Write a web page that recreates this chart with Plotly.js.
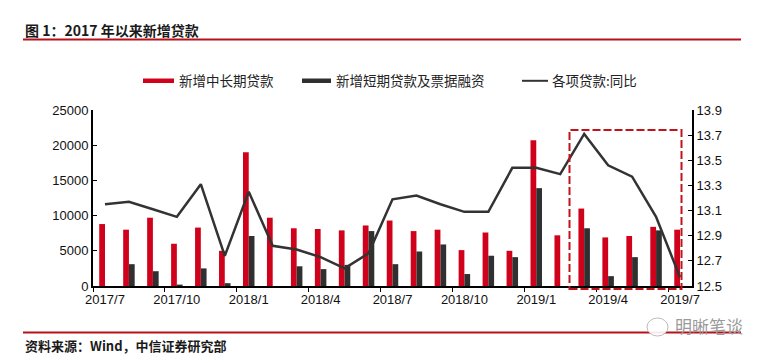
<!DOCTYPE html>
<html>
<head>
<meta charset="utf-8">
<script src="https://cdn.plot.ly/plotly-3.0.1.min.js"></script>
<style>
html,body{margin:0;padding:0;background:#fff;}
#chart{width:774px;height:363px;}
</style>
</head>
<body>
<div id="chart"></div>
<script>
// ---- data ----
var months = ["2017/7","2017/8","2017/9","2017/10","2017/11","2017/12","2018/1","2018/2","2018/3","2018/4","2018/5","2018/6","2018/7","2018/8","2018/9","2018/10","2018/11","2018/12","2019/1","2019/2","2019/3","2019/4","2019/5","2019/6","2019/7"];
var longTermLoans = [8800,8000,9700,6000,8300,5000,19000,9700,8200,8100,7900,8600,9300,7800,8000,5100,7600,5000,20700,7200,11000,6900,7100,8400,8000];
var shortTermBill = [null,3100,2100,200,2500,400,7100,null,2800,2400,3000,7800,3100,4900,5900,1700,4300,4100,13900,null,8200,1400,4100,7900,null];
var loanYoY = [13.15,13.17,13.11,13.05,13.31,12.74,13.25,12.82,12.79,12.73,12.64,12.76,13.19,13.22,13.15,13.09,13.09,13.44,13.44,13.39,13.71,13.46,13.37,13.05,12.57];

var seriesNames = ["新增中长期贷款","新增短期贷款及票据融资","各项贷款:同比"];
var titleText = "图 1：2017 年以来新增贷款";
var sourceText = "资料来源：Wind，中信证券研究部";
var watermarkText = "明晰笔谈";

// ---- layout helpers (pixel -> paper) ----
var W = 774, H = 363;
var mL = 93, mR = 82, mT = 110, mB = 77;
var pw = W - mL - mR, ph = H - mT - mB;
function px(x){ return (x - mL) / pw; }
function py(y){ return (H - mB - y) / ph; }

var RED = "#d0021b", DARK = "#303030", LINE = "#333333", FRAME = "#b5121b";
var CJK = "Noto Sans CJK SC, Liberation Sans, sans-serif";
var LAT = "Liberation Sans, Arial, sans-serif";

var traces = [
  {type:"bar", x:months, y:longTermLoans, name:seriesNames[0], marker:{color:RED}, yaxis:"y", hoverinfo:"x+y"},
  {type:"bar", x:months, y:shortTermBill, name:seriesNames[1], marker:{color:DARK}, yaxis:"y", hoverinfo:"x+y"},
  {type:"scatter", mode:"lines", x:months, y:loanYoY, name:seriesNames[2], line:{color:LINE, width:2.5}, yaxis:"y2"}
];

var shapes = [
  // title underline
  {type:"line", xref:"paper", yref:"paper", x0:px(23), x1:px(741), y0:py(39.5), y1:py(39.5), line:{color:FRAME, width:2}},
  // bottom line
  {type:"line", xref:"paper", yref:"paper", x0:px(23), x1:px(741), y0:py(332.5), y1:py(332.5), line:{color:FRAME, width:2}},
  // highlight box
  {type:"rect", xref:"paper", yref:"paper", x0:px(569.5), x1:px(681.5), y0:py(289), y1:py(130), line:{color:"#c0141c", width:2, dash:"8px,3px"}, fillcolor:"rgba(0,0,0,0)"},
  // legend swatches
  {type:"rect", xref:"paper", yref:"paper", x0:px(143), x1:px(174), y0:py(83), y1:py(78.5), line:{width:0}, fillcolor:RED},
  {type:"rect", xref:"paper", yref:"paper", x0:px(302), x1:px(331), y0:py(83), y1:py(78.5), line:{width:0}, fillcolor:DARK},
  {type:"line", xref:"paper", yref:"paper", x0:px(522), x1:px(548), y0:py(80.8), y1:py(80.8), line:{color:LINE, width:2}},
  // watermark bubble
  {type:"circle", xref:"paper", yref:"paper", x0:px(647), x1:px(668), y0:py(336), y1:py(318), line:{color:"#bbbbbb", width:1}, fillcolor:"rgba(255,255,255,0.9)"}
];

var annotations = [
  {text:titleText, xref:"paper", yref:"paper", x:px(23), y:py(30), xanchor:"left", yanchor:"middle", showarrow:false, font:{family:CJK, size:14, color:"#1a1a1a", weight:"bold"}},
  {text:sourceText, xref:"paper", yref:"paper", x:px(23), y:py(345), xanchor:"left", yanchor:"middle", showarrow:false, font:{family:CJK, size:13, color:"#1a1a1a", weight:"bold"}},
  {text:seriesNames[0], xref:"paper", yref:"paper", x:px(177), y:py(80.5), xanchor:"left", yanchor:"middle", showarrow:false, font:{family:CJK, size:13.5, color:"#222"}},
  {text:seriesNames[1], xref:"paper", yref:"paper", x:px(334), y:py(80.5), xanchor:"left", yanchor:"middle", showarrow:false, font:{family:CJK, size:13.5, color:"#222"}},
  {text:seriesNames[2], xref:"paper", yref:"paper", x:px(550), y:py(80.5), xanchor:"left", yanchor:"middle", showarrow:false, font:{family:CJK, size:13.5, color:"#222"}},
  {text:watermarkText, xref:"paper", yref:"paper", x:px(673), y:py(325), xanchor:"left", yanchor:"middle", showarrow:false, font:{family:CJK, size:17, color:"#9a9a9a"}}
];

var layout = {
  width: W, height: H,
  margin: {l:mL, r:mR, t:mT, b:mB, pad:0},
  paper_bgcolor:"#ffffff", plot_bgcolor:"#ffffff",
  showlegend:false,
  barmode:"group", bargap:0.52, bargroupgap:0,
  font:{family:LAT, size:13, color:"#111"},
  xaxis:{
    type:"category", range:[-0.5, 24.5],
    tickmode:"linear", tick0:0, dtick:3,
    tickson:"boundaries", tickangle:0,
    ticks:"outside", ticklen:4, tickwidth:1, tickcolor:"#000",
    showline:true, linecolor:"#000", linewidth:2,
    showgrid:false, zeroline:false,
    tickfont:{family:LAT, size:13, color:"#111"}
  },
  yaxis:{
    range:[0,25000], dtick:5000, tickformat:"d",
    ticks:"inside", ticklen:4, tickcolor:"#000",
    showline:true, linecolor:"#000", linewidth:2,
    showgrid:false, zeroline:false,
    tickfont:{family:LAT, size:13, color:"#111"}
  },
  yaxis2:{
    overlaying:"y", side:"right",
    range:[12.5,13.9], dtick:0.2, tick0:12.5, tickformat:".1f",
    ticks:"inside", ticklen:4, tickcolor:"#000",
    showline:true, linecolor:"#000", linewidth:2,
    showgrid:false, zeroline:false,
    tickfont:{family:LAT, size:13, color:"#111"}
  },
  shapes: shapes,
  annotations: annotations
};

Plotly.newPlot("chart", traces, layout, {displayModeBar:false, staticPlot:true});
</script>
</body>
</html>
